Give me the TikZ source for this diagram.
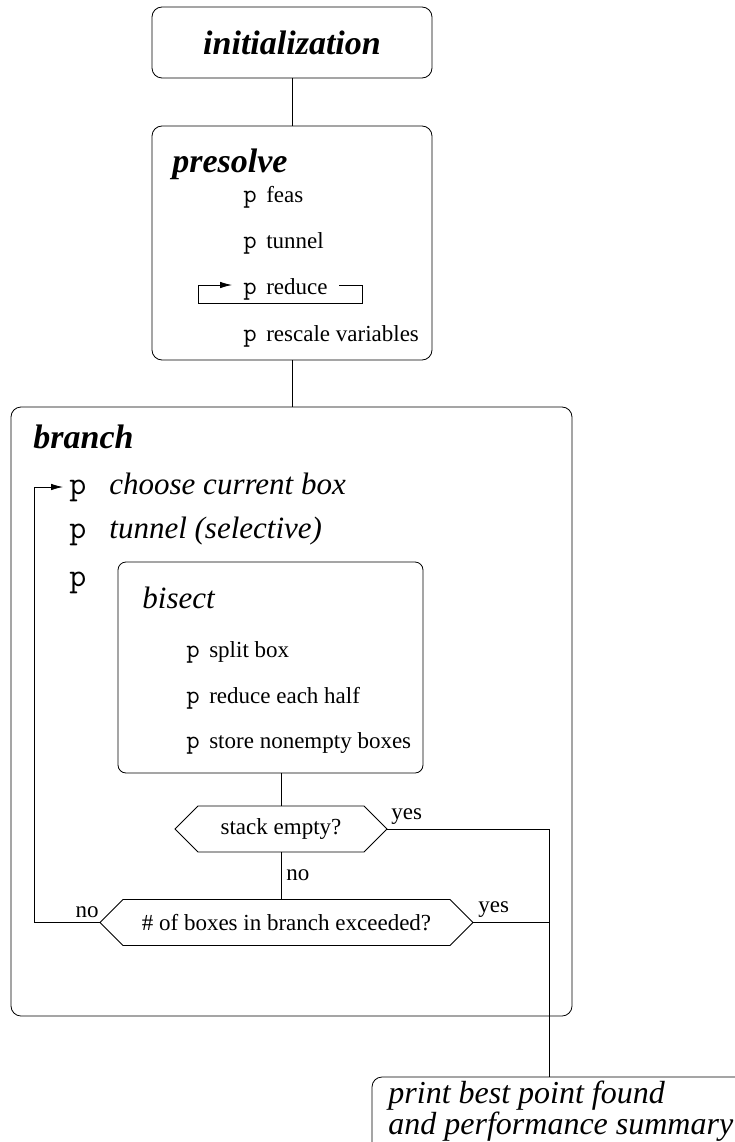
\documentclass[tikz,border=0pt]{standalone}
\usepackage{fontspec}
\setmainfont{Liberation Serif}
\usetikzlibrary{shapes.symbols, arrows.meta}
\tikzset{every picture/.append style={x=1pt, y=-1pt, line width=0.8pt}}
\tikzset{
    box/.style={draw, rounded corners=10pt, inner sep=0pt, outer sep=0pt},
    test/.style={draw, shape=signal, signal to=west and east,
    	signal pointer angle=90, inner sep=0pt, outer sep=0pt,
    	minimum height=46pt, font=\fontsize{23}{27}\selectfont},
    head/.style={anchor=base west, inner sep=0pt,
    	font=\fontsize{34}{40}\selectfont\bfseries\itshape},
    sub/.style={anchor=base west, inner sep=0pt,
    	font=\fontsize{31}{36}\selectfont\itshape},
    small/.style={anchor=base west, inner sep=0pt,
    	font=\fontsize{23}{27}\selectfont},
    big/.style={anchor=base west, inner sep=0pt,
    	font=\fontsize{33}{38}\selectfont\ttfamily},
    tip/.style={-{Latex[length=12pt, width=6.5pt]}}
}
\newcommand{\pstep}[1]{{\fontsize{26}{27}\selectfont\ttfamily p}\hspace{9.5pt}#1}

\begin{document}
\begin{tikzpicture}
  \useasboundingbox (0,0) rectangle (735,1142);

  \node (init) [box, minimum width=280pt, minimum height=71pt,
  	font=\fontsize{34}{40}\selectfont\bfseries\itshape] at (292,42.5) {initialization};

  \node (pre) [box, minimum width=280pt, minimum height=234pt] at (292,243) {};
  \node (pre_t) [head] at (172,173) {presolve};
  \node (feas) [small] at (243,202) {\pstep{feas}};
  \node (tun) [small] at (243,248) {\pstep{tunnel}};
  \node (red) [small] at (243,294) {\pstep{reduce}};
  \node (resc) [small] at (243,341) {\pstep{rescale variables}};
  \coordinate (rd_a) at (339,285);
  \coordinate (rd_b) at (362,303);
  \coordinate (rd_c) at (198,303);
  \coordinate (rd_d) at (232,285);

  \node (br) [box, minimum width=561pt, minimum height=609pt] at (291.5,711.5) {};
  \node (br_t) [head] at (33,448) {branch};
  \node (p1) [big] at (69,494) {p};
  \node (cho) [sub] at (109,494) {choose current box};
  \node (p2) [big] at (69,538) {p};
  \node (tsel) [sub] at (109,538) {tunnel (selective)};
  \node (p3) [big] at (69,586) {p};

  \node (bis) [box, rounded corners=8pt, minimum width=305pt, minimum height=211pt] at (270.5,667.5) {};
  \node (bis_t) [sub] at (142,608) {bisect};
  \node (spl) [small] at (186,657) {\pstep{split box}};
  \node (rhalf) [small] at (186,703) {\pstep{reduce each half}};
  \node (store) [small] at (186,748) {\pstep{store nonempty boxes}};

  \node (stk) [test, minimum width=212pt] at (281,829) {stack empty?};
  \node (exc) [test, minimum width=373pt] at (286.5,922.5) {\# of boxes in branch exceeded?};
  \node (yes1) [small] at (391,819) {yes};
  \node (no1) [small] at (286,880) {no};
  \node (no2) [small, anchor=base east] at (99,917) {no};
  \node (yes2) [small] at (478,912) {yes};
  \coordinate (out) at (549,829);
  \coordinate (lp) at (34,487);
  \coordinate (lp_end) at (63,487);

  \node (prt_box) [box, minimum width=373pt, minimum height=93pt] at (558.5,1123.5) {};
  \node (prt) [anchor=north west, inner sep=0pt, align=left,
  	font=\fontsize{32}{29}\selectfont\itshape] at (388,1081) {print best point found\\and performance summary};

  \draw (init) -- (pre);
  \draw (pre.south) -- (pre.south |- br.north);
  \draw (stk.north) -- (stk.north |- bis.south);
  \draw (stk.south) -- (stk.south |- exc.north);
  \draw (stk.east) -- (out) -- (out |- prt_box.north);
  \draw (exc.east) -- (exc.east -| out);
  \draw [tip] (exc.west) -| (lp) -- (lp_end);
  \draw [tip] (rd_a) -| (rd_b) -- (rd_c) |- (rd_d);
\end{tikzpicture}
\end{document}
